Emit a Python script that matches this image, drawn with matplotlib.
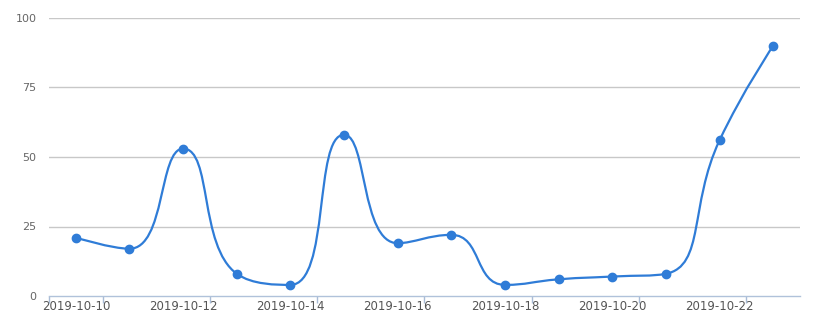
import matplotlib
matplotlib.use("Agg")
import matplotlib.pyplot as plt
import numpy as np
from matplotlib.path import Path
from matplotlib.patches import PathPatch

dates = ['2019-10-10', '2019-10-11', '2019-10-12', '2019-10-13', '2019-10-14',
         '2019-10-15', '2019-10-16', '2019-10-17', '2019-10-18', '2019-10-19',
         '2019-10-20', '2019-10-21', '2019-10-22', '2019-10-23']
values = [21, 17, 53, 8, 4, 58, 19, 22, 4, 6, 7, 8, 56, 90]
yticks = [0, 25, 50, 75, 100]

line_color = '#2f7cd7'
W, H = 827, 333

fig = plt.figure(figsize=(W / 100, H / 100), dpi=100)
ax = fig.add_axes([49 / W, 1 - 296 / H, (800 - 49) / W, (296 - 18) / H])

n = len(values)
x = np.arange(n)
ax.set_yticks(yticks)
ax.set_xticks(x[::2])
ax.set_xticklabels(dates[::2])
ax.set_xticks([-0.5] + list(np.arange(0.5, n - 1, 2)), minor=True)
ax.set_xlim(-0.5, n - 0.5)
ax.set_ylim(0, 100)


def clamp(v, a, b):
    return min(max(v, min(a, b)), max(a, b))


# smooth bezier in pixel space, with extreme clamping (echarts style)
pts = ax.transData.transform(np.column_stack([x, values]))
smooth = 0.5
verts = [pts[0]]
codes = [Path.MOVETO]
cp0 = pts[0].copy()
for i in range(1, n):
    px, py = pts[i - 1]
    cx, cy = pts[i]
    if i == n - 1:
        cp1 = np.array([cx, cy])
        ncp0 = cp1
    else:
        nx, ny = pts[i + 1]
        vx, vy = nx - px, ny - py
        lp = np.hypot(cx - px, cy - py)
        ln = np.hypot(nx - cx, ny - cy)
        r = ln / (ln + lp)
        n0x = clamp(cx + vx * smooth * r, nx, cx)
        n0y = clamp(cy + vy * smooth * r, ny, cy)
        vx, vy = n0x - cx, n0y - cy
        c1x = clamp(cx - vx * lp / ln, px, cx)
        c1y = clamp(cy - vy * lp / ln, py, cy)
        vx, vy = cx - c1x, cy - c1y
        cp1 = np.array([c1x, c1y])
        ncp0 = np.array([cx + vx * ln / lp, cy + vy * ln / lp])
    verts += [cp0, cp1, pts[i]]
    codes += [Path.CURVE4] * 3
    cp0 = ncp0
verts = ax.transData.inverted().transform(np.array(verts))
ax.add_patch(PathPatch(Path(verts, codes), fill=False, edgecolor=line_color,
                       lw=1.6, zorder=3))
ax.plot(x, values, 'o', color=line_color, ms=6, zorder=4)

# grid / axes styling
for t in yticks[1:]:
    ax.axhline(t, color='#c8c8c8', lw=1, zorder=1)
for sp in ['top', 'right', 'left']:
    ax.spines[sp].set_visible(False)
ax.spines['bottom'].set_color('#b0c2da')
ax.spines['bottom'].set_linewidth(1)

ax.tick_params(axis='y', length=0, pad=9, labelsize=8, labelcolor='#666666')
ax.tick_params(axis='x', which='major', length=0, pad=3, labelsize=8.5,
               labelcolor='#555555')
ax.tick_params(axis='x', which='minor', length=5, color='#a9bcd6', width=1)
ax.set_xlim(-0.5, n - 0.5)
ax.set_ylim(0, 100)

fig.savefig('out.png', dpi=100)
